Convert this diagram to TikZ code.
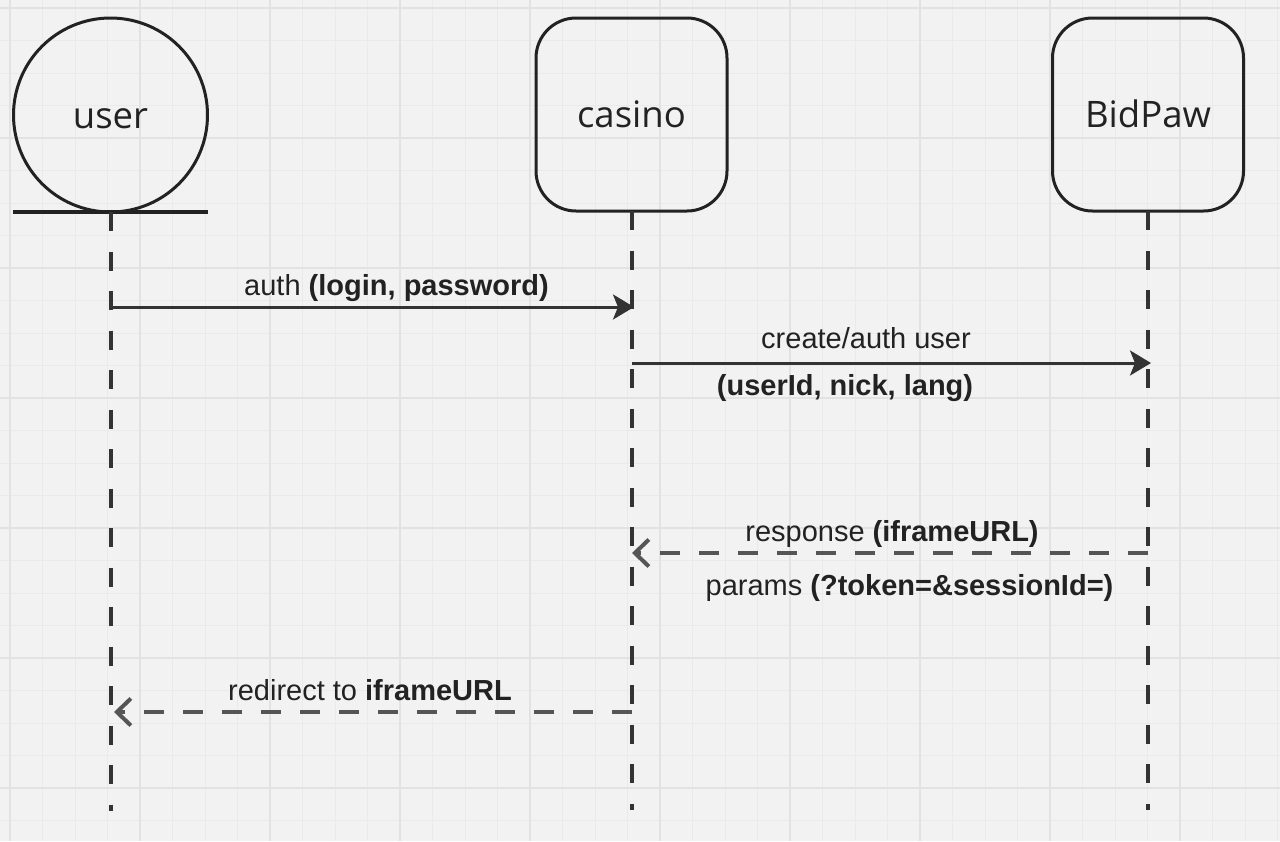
\documentclass[tikz,border=0pt]{standalone}
\usepackage{fontspec}
\setmainfont{Liberation Sans}
\newfontfamily\boxfont{Open Sans}
\usetikzlibrary{arrows.meta}
\definecolor{bg}{HTML}{F2F2F2}
\definecolor{gridminor}{HTML}{EAEAEA}
\definecolor{gridmajor}{HTML}{E2E2E2}
\definecolor{ink}{HTML}{222222}
\definecolor{lineink}{HTML}{333333}
\definecolor{dashink}{HTML}{555555}
\tikzset{
  actorbox/.style={draw=ink, line width=3pt, outer sep=0pt, rounded corners=40pt, minimum width=191pt, minimum height=193pt, inner sep=0pt, text height=26pt, text depth=0pt, font=\boxfont\fontsize{36.5}{40}\selectfont, text=ink},
  actorcircle/.style={draw=ink, line width=3pt, outer sep=0pt, circle, minimum size=194pt, inner sep=0pt, text height=26pt, text depth=0pt, font=\boxfont\fontsize{36.5}{40}\selectfont, text=ink},
  lifeline/.style={draw=lineink, line width=4pt, dash pattern=on 19pt off 20.5pt},
  callmsg/.style={draw=lineink, line width=3pt, -{Stealth[length=21pt,width=25pt,inset=5pt]}},
  replymsg/.style={draw=dashink, line width=4pt, dash pattern=on 20pt off 19pt, -{Straight Barb[length=14pt,width=27pt,line width=4pt]}},
  msglabel/.style={anchor=base, inner sep=0pt, text=ink, font=\fontsize{29}{34}\selectfont},
  minorgrid/.style={draw=gridminor, line width=1pt},
  majorgrid/.style={draw=gridmajor, line width=1.3pt},
}
\begin{document}
\begin{tikzpicture}[x=1pt,y=-1pt]
\fill[bg] (0,0) rectangle (1280,841);
\useasboundingbox (0,0) rectangle (1280,841);
% grid
\foreach \i in {0,...,39} {
  \draw[minorgrid] ({10+32.5*\i},0) -- ({10+32.5*\i},841);
}
\foreach \i in {0,...,26} {
  \draw[minorgrid] (0,{8+32.5*\i}) -- (1280,{8+32.5*\i});
}
\foreach \i in {0,...,9} {
  \draw[majorgrid] ({10+130*\i},0) -- ({10+130*\i},841);
}
\foreach \i in {0,...,6} {
  \draw[majorgrid] (0,{8+130*\i}) -- (1280,{8+130*\i});
}
% participants
\node[actorcircle] (user) at (110.5,115) {user};
\coordinate (ubarL) at (13,212);
\coordinate (ubarR) at (208,212);
\draw[ink, line width=4pt] (ubarL) -- (ubarR);
\node[actorbox] (casino) at (631.5,114.5) {casino};
\node[actorbox] (bidpaw) at (1148,114.5) {BidPaw};
% lifeline ends
\coordinate (ubot) at (110.5,811);
\coordinate (cbot) at (631.5,810);
\coordinate (bbot) at (1148,810);
\draw[lifeline] (user.south) -- (ubot);
\draw[lifeline] (casino.south) -- (cbot);
\draw[lifeline] (bidpaw.south) -- (bbot);
% message points
\coordinate (u1) at (110.5,307);
\coordinate (c1) at (634,307);
\coordinate (c2) at (631.5,363);
\coordinate (b2) at (1151,363);
\coordinate (b3) at (1148,553);
\coordinate (c3) at (632,553);
\coordinate (c4) at (631.5,712);
\coordinate (u4) at (114,712);
% messages
\draw[callmsg] (u1) -- (c1);
\node[msglabel] (l1) at (396.5,295) {auth \textbf{(login, password)}};
\draw[callmsg] (c2) -- (b2);
\node[msglabel] (l2a) at (866,348) {create/auth user};
\node[msglabel] (l2b) at (845,395) {\textbf{(userId, nick, lang)}};
\draw[replymsg] (b3) -- (c3);
\node[msglabel] (l3a) at (892,541) {response \textbf{(iframeURL)}};
\node[msglabel] (l3b) at (909.5,595) {params \textbf{(?token=\&sessionId=)}};
\draw[replymsg] (c4) -- (u4);
\node[msglabel] (l4) at (370,700) {redirect to \textbf{iframeURL}};
\end{tikzpicture}
\end{document}
